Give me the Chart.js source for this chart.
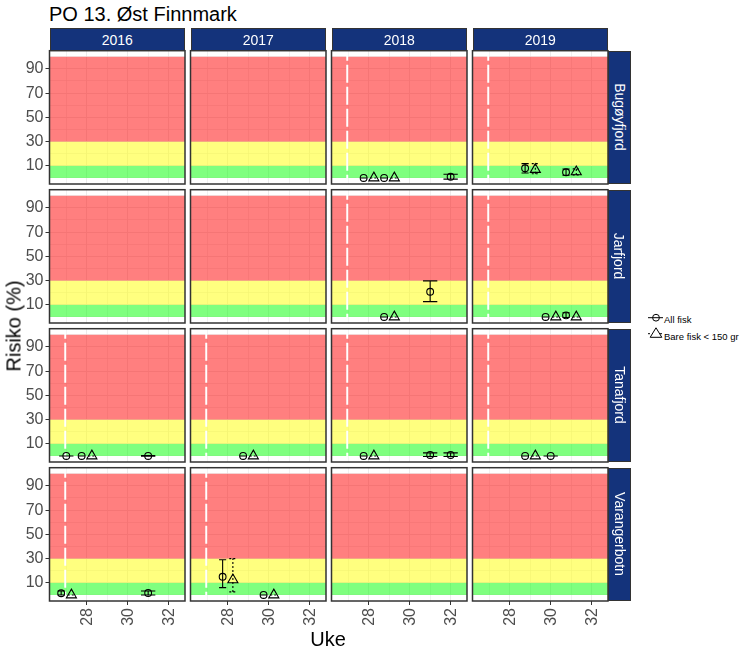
<!DOCTYPE html>
<html>
<head>
<meta charset="utf-8">
<script src="https://cdn.jsdelivr.net/npm/chart.js@4"></script>
<style>
  html, body { margin: 0; padding: 0; background: #fff; }
  #page { position: relative; width: 750px; height: 650px; overflow: hidden; font-family: "Liberation Sans", Arial, sans-serif; }
  canvas { position: absolute; }
  .txt { position: absolute; white-space: nowrap; }
  .strip { position: absolute; box-sizing: border-box; background: #14337b; border: 1.5px solid #333; color: #fff; font-size: 14px; display: flex; align-items: center; justify-content: center; }
  .strip span { white-space: nowrap; }
  .side span { transform: rotate(90deg); }
</style>
</head>
<body>
<div id="page"></div>
<script>
const years = ["2016", "2017", "2018", "2019"];
const fjords = ["Bugøyfjord", "Jarfjord", "Tanafjord", "Varangerbotn"];
const weekTicks = [27, 28, 29, 30, 31, 32];
const weekLabels = [28, 30, 32];
const riskTicks = [0, 10, 20, 30, 40, 50, 60, 70, 80, 90, 100];
const riskLabels = [10, 30, 50, 70, 90];
const bandLimits = [0, 10, 30, 100];

// fjord, year, week, risk, low, high
const allFisk = [
  [0, 2, 28, 0, 0, 0],
  [0, 2, 29, 0, 0, 0],
  [0, 2, 32, 1, -1, 3],
  [0, 3, 29, 8, 4.1, 11.8],
  [0, 3, 31, 4.7, 2.2, 7.4],
  [1, 2, 29, 0, 0, 0],
  [1, 2, 31, 20.8, 12.6, 29.8],
  [1, 3, 30, 0, 0, 0],
  [1, 3, 31, 1.3, -0.5, 3.5],
  [2, 0, 27, 0, 0, 0],
  [2, 0, 28, 0, 0, 0],
  [2, 0, 31, 0, -0.2, 0.3],
  [2, 1, 29, 0, 0, 0],
  [2, 2, 28, 0, 0, 0],
  [2, 2, 31, 0.8, -0.5, 2.5],
  [2, 2, 32, 0.8, -0.5, 2.5],
  [2, 3, 29, 0, 0, 0],
  [2, 3, 30, 0, 0, 0],
  [3, 0, 27, 1.4, 0, 3.3],
  [3, 0, 31, 1.6, 0, 3.3],
  [3, 1, 28, 15, 6, 29],
  [3, 1, 30, 0, 0, 0],
];
const bareFisk = [
  [0, 2, 28, 0, 0, 0],
  [0, 2, 29, 0, 0, 0],
  [0, 3, 29, 7, 3.5, 11.8],
  [0, 3, 31, 5, 2.5, 7.5],
  [1, 2, 29, 0, 0, 0],
  [1, 3, 30, 0, 0, 0],
  [1, 3, 31, 0, 0, 0],
  [2, 0, 28, 0, 0, 0],
  [2, 1, 29, 0, 0, 0],
  [2, 2, 28, 0, 0, 0],
  [2, 3, 29, 0, 0, 0],
  [3, 0, 27, 0, 0, 0],
  [3, 1, 28, 12.5, 2.5, 30],
  [3, 1, 30, 0, 0, 0],
];
// fjord, year with the white dashed line
const markedPanels = [[0, 2], [0, 3], [1, 2], [1, 3], [2, 0], [2, 1], [2, 2], [2, 3], [3, 0], [3, 1]];
const markedWeek = 26.95;

const bandColors = ["rgba(0,255,0,0.5)", "rgba(255,255,0,0.5)", "rgba(255,0,0,0.5)"];
const colLeft = [49.5, 190.5, 331.5, 472.5];
const rowTop = [50.7, 189.7, 328.7, 467.7];
const panelW = 135.5, panelH = 133.3, pad = 3, leftAxis = 49, bottomAxis = 50;
const page = document.getElementById("page");

function addText(text, css) {
  const el = document.createElement("div");
  el.className = "txt";
  el.textContent = text;
  el.style.cssText = css;
  page.appendChild(el);
}

function addStrip(text, cls, l, t, w, h) {
  const el = document.createElement("div");
  el.className = cls;
  el.style.left = l + "px"; el.style.top = t + "px"; el.style.width = w + "px"; el.style.height = h + "px";
  const s = document.createElement("span");
  s.textContent = text;
  el.appendChild(s);
  page.appendChild(el);
}

// points side by side when both series have the same week
function toPoints(rows, other, f, y, offset) {
  return rows.filter(r => r[0] === f && r[1] === y).map(r => {
    const paired = other.some(o => o[0] === f && o[1] === y && o[2] === r[2]);
    return { x: r[2] + (paired ? offset : 0), y: r[3], low: r[4], high: r[5], cap: paired ? 0.175 : 0.35 };
  });
}

const panelPlugin = {
  id: "panel",
  beforeDatasetsDraw(chart, args, opts) {
    const { ctx, chartArea: a, scales } = chart;
    ctx.save();
    bandColors.forEach((c, i) => {
      const top = scales.y.getPixelForValue(bandLimits[i + 1]);
      const bot = scales.y.getPixelForValue(bandLimits[i]);
      ctx.fillStyle = c;
      ctx.fillRect(a.left, top, a.right - a.left, bot - top);
    });
    if (opts.marked) {
      const px = scales.x.getPixelForValue(markedWeek);
      ctx.strokeStyle = "#fff";
      ctx.lineWidth = 2;
      ctx.setLineDash([18, 4]);
      ctx.lineDashOffset = 8;
      ctx.beginPath();
      ctx.moveTo(px, a.top);
      ctx.lineTo(px, a.bottom);
      ctx.stroke();
      ctx.setLineDash([]);
      ctx.lineDashOffset = 0;
    }
    // error bars
    chart.data.datasets.forEach((ds, i) => {
      ctx.strokeStyle = "#000";
      ctx.lineWidth = 1.1;
      ds.data.forEach(p => {
        const x0 = scales.x.getPixelForValue(p.x - p.cap);
        const x1 = scales.x.getPixelForValue(p.x + p.cap);
        const xm = scales.x.getPixelForValue(p.x);
        const yl = scales.y.getPixelForValue(p.low);
        const yh = scales.y.getPixelForValue(p.high);
        ctx.setLineDash(i === 1 ? [2, 2] : []);
        ctx.beginPath();
        ctx.moveTo(x0, yl); ctx.lineTo(x1, yl);
        ctx.moveTo(x0, yh); ctx.lineTo(x1, yh);
        ctx.moveTo(xm, yl); ctx.lineTo(xm, yh);
        ctx.stroke();
      });
    });
    ctx.restore();
  },
  afterDraw(chart) {
    const { ctx, chartArea: a } = chart;
    ctx.save();
    ctx.strokeStyle = "#333";
    ctx.lineWidth = 1.5;
    ctx.strokeRect(a.left, a.top, a.right - a.left, a.bottom - a.top);
    ctx.restore();
  },
};

function noOverhang(s) {
  s.paddingLeft = 0; s.paddingRight = 0; s.paddingTop = 0; s.paddingBottom = 0;
}

fjords.forEach((fjord, f) => {
  years.forEach((year, y) => {
    const isLeft = y === 0, isBottom = f === fjords.length - 1;
    // canvas sits on whole pixels, the padding takes up the rest
    const rawLeft = colLeft[y] - pad - (isLeft ? leftAxis : 0);
    const rawTop = rowTop[f] - pad;
    const cvLeft = Math.floor(rawLeft), cvTop = Math.floor(rawTop);
    const w = Math.ceil(panelW + pad * 2 + (isLeft ? leftAxis : 0) + 1);
    const h = Math.ceil(panelH + pad * 2 + (isBottom ? bottomAxis : 0) + 1);
    const padLeft = pad + rawLeft - cvLeft;
    const padTop = pad + rawTop - cvTop;
    const padRight = w - padLeft - panelW - (isLeft ? leftAxis : 0);
    const padBottom = h - padTop - panelH - (isBottom ? bottomAxis : 0);

    const cv = document.createElement("canvas");
    cv.width = w; cv.height = h;
    cv.style.left = cvLeft + "px";
    cv.style.top = cvTop + "px";
    page.appendChild(cv);

    new Chart(cv, {
      type: "scatter",
      data: {
        datasets: [
          { label: "All fisk", data: toPoints(allFisk, bareFisk, f, y, -0.25), pointStyle: "circle", pointRadius: 3.4, pointHoverRadius: 3.4, pointBorderColor: "#000", pointBackgroundColor: "transparent", pointBorderWidth: 1.1 },
          { label: "Bare fisk < 150 gr", data: toPoints(bareFisk, allFisk, f, y, 0.25), pointStyle: "triangle", pointRadius: 5.8, pointHoverRadius: 5.8, pointBorderColor: "#000", pointBackgroundColor: "transparent", pointBorderWidth: 1.1 },
        ],
      },
      options: {
        responsive: false,
        animation: false,
        devicePixelRatio: 1,
        layout: { autoPadding: false, padding: { left: padLeft, top: padTop, right: padRight, bottom: padBottom } },
        plugins: {
          legend: { display: false },
          tooltip: { enabled: false },
          panel: { marked: markedPanels.some(m => m[0] === f && m[1] === y) },
        },
        scales: {
          x: {
            type: "linear",
            min: 26.18,
            max: 32.8,
            afterBuildTicks: s => { s.ticks = weekTicks.map(value => ({ value })); },
            afterFit: s => { s.height = isBottom ? bottomAxis : 0; noOverhang(s); },
            border: { display: false },
            grid: {
              color: "#ebebeb",
              lineWidth: c => (weekLabels.includes(c.tick.value) ? 1 : 0.7),
              drawTicks: isBottom,
              tickLength: 4,
              tickColor: c => (weekLabels.includes(c.tick.value) ? "#333" : "transparent"),
              tickWidth: 1,
            },
            ticks: {
              display: isBottom,
              autoSkip: false,
              minRotation: 90,
              maxRotation: 90,
              padding: 3,
              labelOffset: 1,
              color: "#4d4d4d",
              font: { family: "Liberation Sans", size: 16 },
              callback: v => (weekLabels.includes(v) ? String(v) : ""),
            },
          },
          y: {
            type: "linear",
            min: -5,
            max: 105,
            afterBuildTicks: s => { s.ticks = riskTicks.map(value => ({ value })); },
            afterFit: s => { s.width = isLeft ? leftAxis : 0; noOverhang(s); },
            border: { display: false },
            grid: {
              color: "#ebebeb",
              lineWidth: c => (riskLabels.includes(c.tick.value) ? 1 : 0.7),
              drawTicks: isLeft,
              tickLength: 4,
              tickColor: c => (riskLabels.includes(c.tick.value) ? "#333" : "transparent"),
              tickWidth: 1,
            },
            ticks: {
              display: isLeft,
              autoSkip: false,
              padding: 2,
              color: "#4d4d4d",
              font: { family: "Liberation Sans", size: 16 },
              callback: v => (riskLabels.includes(v) ? String(v) : ""),
            },
          },
        },
      },
      plugins: [panelPlugin],
    });
  });
});

// strips
years.forEach((year, y) => addStrip(year, "strip", colLeft[y], 28.3, panelW, 23));
fjords.forEach((fjord, f) => addStrip(fjord, "strip side", colLeft[3] + panelW, rowTop[f], 23, panelH));

// titles
addText("PO 13. Øst Finnmark", "left:49px;top:3px;font-size:20px;color:#000;");
addText("Uke", "left:328px;top:639px;font-size:20px;color:#000;transform:translate(-50%,-50%);");
addText("Risiko (%)", "left:14px;top:326px;font-size:20px;color:#000;transform:translate(-50%,-50%) rotate(-90deg);");

// legend
const svgNS = "http://www.w3.org/2000/svg";
const key = document.createElementNS(svgNS, "svg");
key.setAttribute("width", "20"); key.setAttribute("height", "36");
key.style.cssText = "position:absolute;left:646px;top:308px;";
key.innerHTML =
  '<line x1="2" x2="17" y1="9.7" y2="9.7" stroke="#000" stroke-width="1"/>' +
  '<circle cx="10" cy="9.7" r="3.4" fill="none" stroke="#000" stroke-width="1"/>' +
  '<line x1="2" x2="17" y1="25.7" y2="25.7" stroke="#000" stroke-width="1" stroke-dasharray="2 2"/>' +
  '<path d="M10 19.8 L15.8 29.3 L4.2 29.3 Z" fill="#fff" stroke="#000" stroke-width="1"/>';
page.appendChild(key);
addText("All fisk", "left:664px;top:314px;font-size:9.5px;line-height:11px;color:#000;");
addText("Bare fisk < 150 gr", "left:664px;top:331px;font-size:9.5px;line-height:11px;color:#000;");
</script>
</body>
</html>
